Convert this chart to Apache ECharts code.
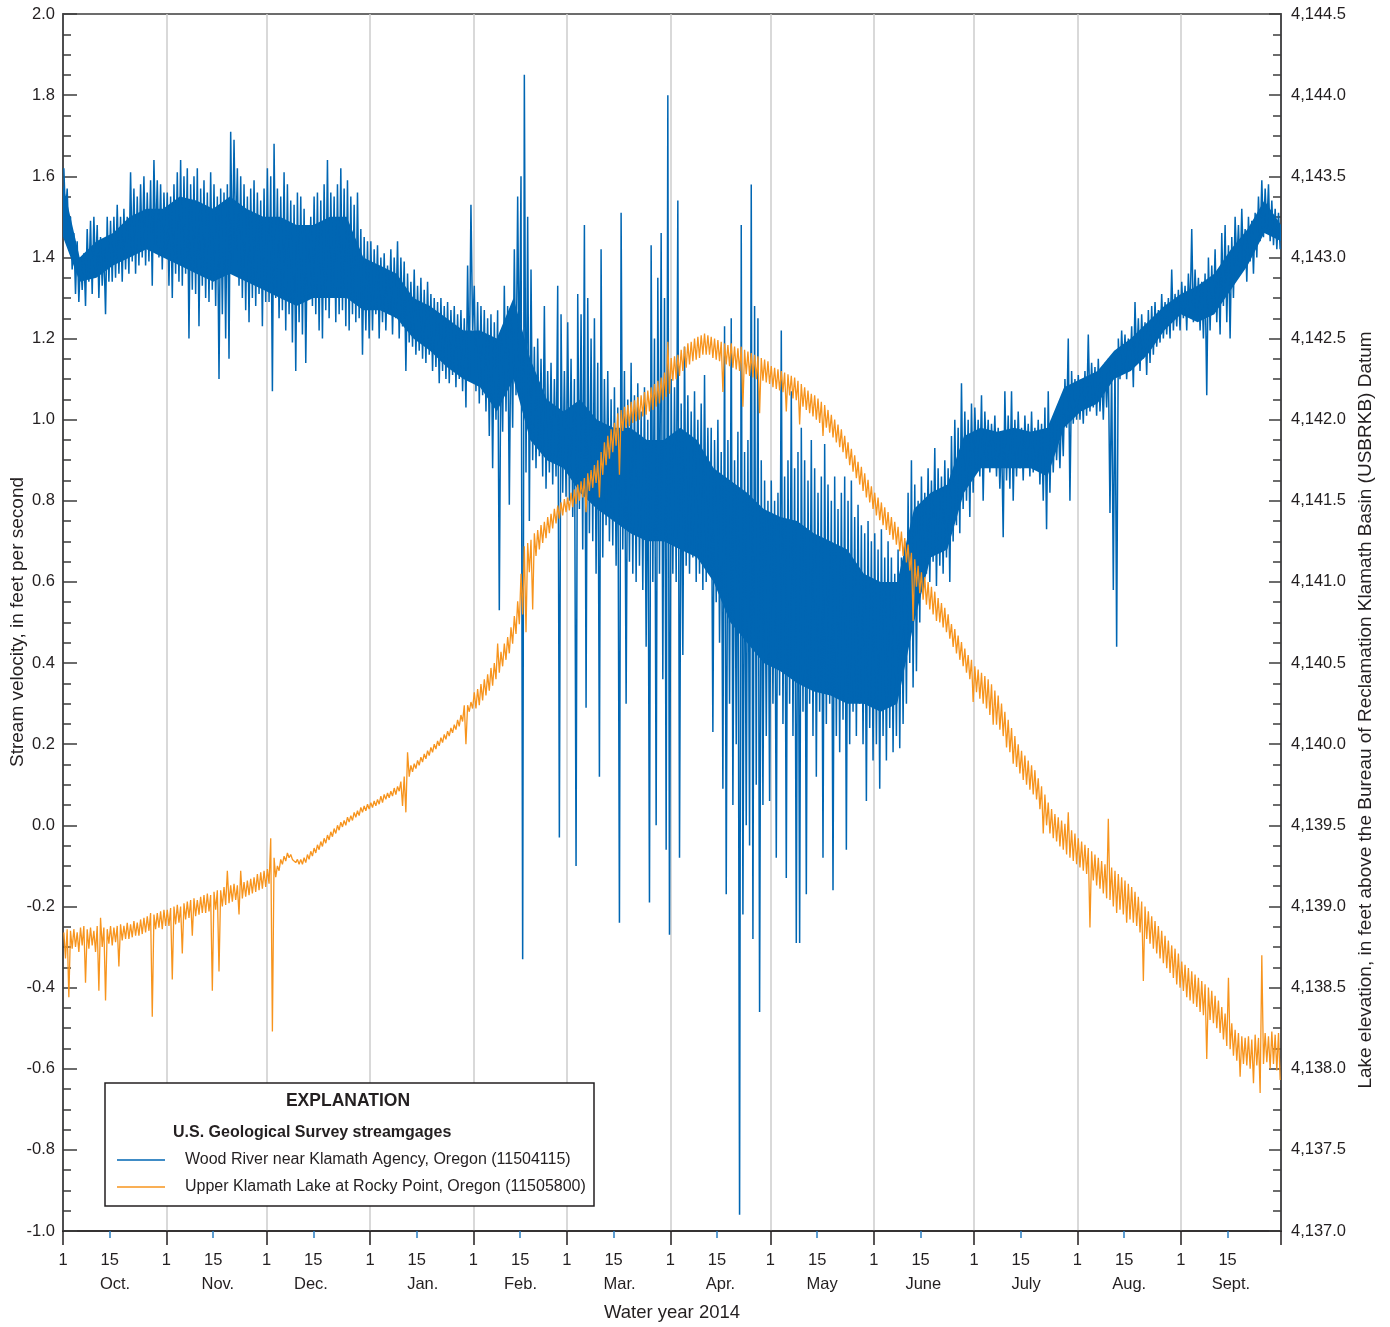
<!DOCTYPE html>
<html>
<head>
<meta charset="utf-8">
<script src="https://cdn.jsdelivr.net/npm/echarts@6/dist/echarts.min.js"></script>
<style>
html,body{margin:0;padding:0;background:#fff;}
#chart{width:1390px;height:1327px;}
</style>
</head>
<body>
<div id="chart"></div>
<script>
// ---- Tick / label arrays (day index from 1 Oct 2013) ----
const monthStartDays = [0, 31, 61, 92, 123, 151, 182, 212, 243, 273, 304, 335, 365];
const midMonthDays = [14, 45, 75, 106, 137, 165, 196, 226, 257, 287, 318, 349];
const monthNames = ['Oct.', 'Nov.', 'Dec.', 'Jan.', 'Feb.', 'Mar.', 'Apr.', 'May', 'June', 'July', 'Aug.', 'Sept.'];
const monthLabelDays = [15.6, 46.4, 74.3, 107.8, 137.1, 166.8, 197, 227.5, 257.8, 288.6, 319.5, 350];

// ---- Wood River stream velocity (ft/s): daily upper and lower envelope ----
const woodHigh = [
 1.62,1.57,1.50,1.46,1.44,1.40,1.41,1.47,1.49,1.50,1.48,1.45,1.42,1.50,1.49,1.50,1.53,1.50,1.52,1.50,1.61,1.57,1.55,1.58,1.60,1.56,1.59,1.64,1.59,1.58,1.56,
 1.56,1.55,1.58,1.61,1.64,1.60,1.62,1.58,1.60,1.62,1.57,1.59,1.56,1.61,1.58,1.55,1.57,1.56,1.58,1.71,1.69,1.62,1.60,1.58,1.55,1.57,1.59,1.56,1.54,1.57,
 1.62,1.60,1.68,1.57,1.55,1.61,1.58,1.54,1.53,1.56,1.55,1.52,1.46,1.50,1.55,1.56,1.54,1.58,1.64,1.56,1.55,1.58,1.62,1.57,1.59,1.55,1.53,1.56,1.47,1.45,1.44,
 1.44,1.42,1.43,1.40,1.41,1.38,1.42,1.40,1.44,1.40,1.39,1.36,1.34,1.37,1.33,1.35,1.32,1.34,1.31,1.30,1.29,1.30,1.28,1.29,1.27,1.28,1.26,1.27,1.25,1.38,1.53,
 1.33,1.29,1.28,1.27,1.25,1.26,1.24,1.27,1.22,1.33,1.28,1.25,1.42,1.55,1.60,1.85,1.50,1.37,1.18,1.20,1.15,1.28,1.12,1.14,1.10,1.33,1.26,1.12,
 1.24,1.15,1.10,1.31,1.26,1.48,1.30,1.20,1.25,1.14,1.42,1.10,1.12,1.05,1.08,1.03,1.51,1.12,1.05,1.14,1.06,1.09,1.02,1.08,1.00,1.43,1.20,1.35,1.46,1.30,1.80,
 1.10,1.08,1.54,1.04,1.18,1.06,1.02,1.07,1.00,1.04,1.11,0.98,0.98,0.95,1.00,0.92,1.23,0.95,1.25,0.90,0.97,1.48,0.92,0.95,1.58,1.28,1.25,0.90,0.85,0.80,
 0.85,0.80,0.82,1.22,0.86,0.90,1.07,0.88,0.92,0.98,0.90,0.85,0.95,0.88,0.82,0.86,0.94,0.84,0.80,0.86,0.78,0.82,0.86,0.80,0.85,0.76,0.79,0.74,0.72,0.75,0.70,
 0.72,0.68,0.73,0.66,0.70,0.66,0.62,0.68,0.66,0.70,0.82,0.90,0.84,0.80,0.86,0.82,0.88,0.85,0.93,0.88,0.86,0.90,0.88,0.96,1.00,0.98,1.09,1.02,1.00,1.04,
 1.03,1.00,1.06,1.02,1.00,0.99,1.01,0.98,0.97,1.07,1.01,1.07,1.00,1.02,0.98,1.01,0.99,1.02,0.98,1.00,0.99,1.03,1.07,1.00,1.01,1.00,1.03,1.10,1.20,1.12,1.10,
 1.11,1.10,1.12,1.21,1.14,1.13,1.15,1.12,1.14,1.15,1.14,1.16,1.20,1.22,1.21,1.20,1.23,1.29,1.25,1.26,1.24,1.27,1.28,1.29,1.27,1.31,1.29,1.30,1.37,1.31,1.32,
 1.34,1.33,1.36,1.47,1.37,1.35,1.34,1.36,1.40,1.38,1.42,1.37,1.46,1.48,1.43,1.45,1.50,1.48,1.52,1.47,1.50,1.49,1.51,1.55,1.59,1.57,1.58,1.54,1.52,1.51
];
const woodLow = [
 1.50,1.44,1.37,1.31,1.29,1.32,1.28,1.34,1.31,1.36,1.30,1.33,1.26,1.34,1.34,1.35,1.36,1.34,1.37,1.36,1.39,1.36,1.38,1.40,1.38,1.39,1.33,1.43,1.40,1.37,1.41,
 1.33,1.30,1.36,1.34,1.33,1.36,1.20,1.32,1.31,1.23,1.33,1.30,1.29,1.32,1.28,1.10,1.26,1.20,1.15,1.38,1.42,1.33,1.30,1.27,1.24,1.30,1.28,1.31,1.23,1.29,
 1.29,1.07,1.30,1.25,1.27,1.22,1.26,1.19,1.12,1.24,1.21,1.14,1.30,1.28,1.26,1.22,1.20,1.27,1.25,1.30,1.24,1.26,1.27,1.23,1.22,1.26,1.24,1.25,1.16,1.22,1.20,
 1.22,1.26,1.20,1.24,1.22,1.26,1.21,1.25,1.20,1.23,1.12,1.19,1.18,1.16,1.17,1.15,1.14,1.16,1.12,1.13,1.09,1.12,1.10,1.09,1.11,1.08,1.10,1.07,1.03,1.10,1.22,
 1.07,1.04,1.06,1.02,0.96,0.88,1.00,0.53,0.97,1.02,0.79,0.98,1.06,1.10,-0.33,0.87,0.75,0.90,0.88,0.91,0.86,0.83,0.87,0.84,0.86,-0.03,0.82,0.81,
 0.80,0.76,-0.10,0.78,0.68,0.29,0.72,0.70,0.62,0.12,0.66,0.74,0.70,0.69,0.64,-0.24,0.68,0.30,0.65,0.62,0.60,0.64,0.58,0.44,-0.19,0.60,0.00,0.62,0.36,-0.06,-0.27,
 0.62,0.60,-0.08,0.42,0.64,0.62,0.66,0.60,0.62,0.58,0.60,0.62,0.23,0.55,0.45,0.09,-0.17,0.30,0.05,0.20,-0.96,-0.22,0.00,-0.05,-0.28,0.10,-0.46,0.05,0.22,0.06,
 0.30,-0.08,0.32,0.25,-0.13,0.30,0.22,-0.29,-0.29,0.28,-0.17,0.30,0.22,0.12,0.28,-0.08,0.25,0.30,-0.16,0.22,0.18,0.26,-0.06,0.20,0.28,0.22,0.30,0.20,0.06,0.24,0.16,
 0.20,0.09,0.22,0.16,0.24,0.18,0.22,0.19,0.25,0.30,0.40,0.34,0.38,0.50,0.58,0.62,0.60,0.65,0.59,0.64,0.62,0.66,0.60,0.70,0.74,0.72,0.78,0.80,0.76,0.82,
 0.88,0.86,0.80,0.90,0.87,0.89,0.86,0.83,0.71,0.85,0.83,0.80,0.86,0.88,0.85,0.89,0.86,0.87,0.88,0.84,0.80,0.73,0.82,0.87,0.90,0.88,0.91,0.98,0.80,0.99,1.00,
 1.00,0.99,1.01,1.02,1.03,1.01,1.02,1.00,1.03,0.77,0.58,0.44,1.10,1.12,1.10,1.12,1.08,1.14,1.12,1.15,1.11,1.14,1.16,1.18,1.19,1.20,1.21,1.20,1.22,1.23,1.22,
 1.25,1.22,1.26,1.24,1.26,1.22,1.20,1.06,1.22,1.26,1.24,1.21,1.28,1.24,1.20,1.30,1.38,1.36,1.38,1.34,1.39,1.36,1.40,1.44,1.45,1.47,1.44,1.43,1.42,1.42
];
// Dense core of the Wood River trace (where the record is solid blue), every 5 days
const coreDays = [0,5,10,15,20,25,30,35,40,45,50,55,60,65,70,75,80,85,90,95,100,105,110,115,120,125,130,135,140,145,150,155,160,165,170,175,180,185,190,195,200,205,210,215,220,225,230,235,240,245,250,255,260,265,270,275,280,285,290,295,300,305,310,315,320,325,330,335,340,345,350,355,360,365];
const woodCoreLow = [1.45,1.34,1.35,1.38,1.40,1.42,1.40,1.38,1.36,1.34,1.36,1.34,1.32,1.30,1.28,1.30,1.30,1.30,1.27,1.27,1.25,1.20,1.17,1.13,1.10,1.08,1.02,1.10,0.95,0.90,0.88,0.82,0.78,0.75,0.72,0.70,0.70,0.68,0.66,0.60,0.50,0.45,0.40,0.38,0.35,0.33,0.32,0.30,0.30,0.28,0.30,0.50,0.66,0.68,0.82,0.88,0.88,0.88,0.88,0.86,0.98,1.02,1.04,1.10,1.12,1.16,1.22,1.26,1.24,1.26,1.32,1.38,1.46,1.44];
const woodCoreHigh = [1.58,1.40,1.44,1.46,1.50,1.52,1.52,1.55,1.54,1.52,1.55,1.52,1.50,1.50,1.48,1.48,1.50,1.50,1.40,1.38,1.36,1.30,1.28,1.25,1.22,1.22,1.20,1.30,1.15,1.05,1.02,1.05,1.00,0.98,0.98,0.95,0.95,0.98,0.95,0.88,0.85,0.82,0.78,0.76,0.75,0.72,0.70,0.68,0.62,0.60,0.60,0.78,0.82,0.84,0.96,0.98,0.97,0.98,0.97,0.98,1.08,1.10,1.12,1.17,1.20,1.24,1.28,1.31,1.33,1.36,1.42,1.47,1.54,1.48];

// ---- Upper Klamath Lake elevation (ft, USBRKB datum): daily upper and lower envelope ----
const lakeHigh = [
 4138.84,4138.86,4138.85,4138.86,4138.84,4138.87,4138.88,4138.86,4138.87,4138.85,4138.88,4138.93,4138.87,4138.86,4138.88,4138.87,4138.88,4138.89,4138.88,4138.90,4138.89,4138.91,4138.90,4138.92,4138.93,4138.94,4138.96,4138.95,4138.96,4138.97,4138.98,
 4138.98,4138.99,4139.00,4139.01,4139.00,4139.02,4139.03,4139.04,4139.05,4139.04,4139.06,4139.07,4139.08,4139.07,4139.09,4139.10,4139.10,4139.12,4139.22,4139.13,4139.14,4139.13,4139.22,4139.15,4139.16,4139.17,4139.18,4139.20,4139.21,4139.22,
 4139.23,4139.42,4139.30,4139.25,4139.29,4139.31,4139.33,4139.32,4139.30,4139.29,4139.29,4139.30,4139.32,4139.34,4139.36,4139.38,4139.40,4139.42,4139.44,4139.46,4139.48,4139.50,4139.52,4139.53,4139.55,4139.56,4139.58,4139.59,4139.61,4139.62,4139.63,
 4139.64,4139.65,4139.66,4139.68,4139.69,4139.70,4139.71,4139.73,4139.74,4139.77,4139.80,4139.95,4139.87,4139.88,4139.90,4139.92,4139.94,4139.96,4139.98,4140.00,4140.02,4140.04,4140.06,4140.08,4140.10,4140.12,4140.15,4140.18,4140.24,4140.24,4140.26,
 4140.32,4140.34,4140.37,4140.40,4140.43,4140.47,4140.50,4140.62,4140.57,4140.62,4140.66,4140.72,4140.79,4140.88,4141.05,4141.22,4141.24,4141.26,4141.30,4141.32,4141.35,4141.37,4141.40,4141.42,4141.45,4141.47,4141.49,4141.51,
 4141.52,4141.55,4141.57,4141.60,4141.62,4141.64,4141.67,4141.69,4141.72,4141.75,4141.80,4141.86,4141.90,4141.94,4141.98,4142.04,4142.06,4142.08,4142.09,4142.11,4142.12,4142.14,4142.15,4142.17,4142.18,4142.20,4142.22,4142.24,4142.26,4142.29,4142.48,
 4142.38,4142.39,4142.40,4142.43,4142.45,4142.47,4142.48,4142.50,4142.51,4142.52,4142.53,4142.52,4142.51,4142.50,4142.49,4142.48,4142.47,4142.46,4142.47,4142.45,4142.44,4142.45,4142.43,4142.42,4142.41,4142.40,4142.39,4142.38,4142.37,4142.36,
 4142.33,4142.32,4142.31,4142.30,4142.29,4142.28,4142.27,4142.26,4142.24,4142.22,4142.20,4142.18,4142.16,4142.15,4142.13,4142.11,4142.09,4142.06,4142.03,4142.00,4141.97,4141.94,4141.90,4141.86,4141.82,4141.78,4141.74,4141.71,4141.67,4141.63,4141.59,
 4141.55,4141.52,4141.49,4141.46,4141.43,4141.40,4141.37,4141.34,4141.31,4141.27,4141.23,4141.18,4141.14,4141.10,4141.06,4141.03,4141.00,4140.97,4140.94,4140.90,4140.87,4140.84,4140.80,4140.74,4140.71,4140.67,4140.63,4140.59,4140.55,4140.52,
 4140.48,4140.46,4140.44,4140.42,4140.40,4140.37,4140.33,4140.30,4140.25,4140.20,4140.15,4140.10,4140.05,4140.00,4139.96,4139.93,4139.90,4139.87,4139.84,4139.79,4139.74,4139.69,4139.64,4139.60,4139.57,4139.55,4139.53,4139.51,4139.58,4139.47,4139.45,
 4139.42,4139.40,4139.38,4139.36,4139.34,4139.32,4139.30,4139.28,4139.26,4139.54,4139.24,4139.22,4139.20,4139.18,4139.16,4139.14,4139.12,4139.09,4139.06,4139.03,4139.00,4138.97,4138.94,4138.91,4138.88,4138.85,4138.82,4138.79,4138.76,4138.74,4138.71,
 4138.66,4138.64,4138.62,4138.60,4138.58,4138.56,4138.54,4138.52,4138.50,4138.48,4138.45,4138.42,4138.38,4138.34,4138.56,4138.28,4138.24,4138.22,4138.20,4138.19,4138.20,4138.18,4138.21,4138.19,4138.70,4138.22,4138.20,4138.23,4138.21,4138.22
];
const lakeLow = [
 4138.68,4138.44,4138.74,4138.75,4138.72,4138.76,4138.53,4138.74,4138.76,4138.72,4138.48,4138.75,4138.42,4138.77,4138.76,4138.78,4138.63,4138.79,4138.80,4138.80,4138.81,4138.82,4138.82,4138.83,4138.84,4138.85,4138.32,4138.86,4138.87,4138.86,4138.88,
 4138.88,4138.55,4138.89,4138.90,4138.71,4138.92,4138.93,4138.82,4138.94,4138.95,4138.96,4138.96,4138.97,4138.48,4138.98,4138.60,4139.00,4139.01,4139.02,4139.03,4139.04,4138.95,4139.05,4139.06,4139.07,4139.08,4139.09,4139.10,4139.11,4139.12,
 4139.14,4138.23,4139.18,4139.22,4139.26,4139.28,4139.30,4139.29,4139.27,4139.26,4139.26,4139.27,4139.29,4139.31,4139.33,4139.35,4139.37,4139.39,4139.41,4139.43,4139.45,4139.47,4139.49,4139.50,4139.52,4139.53,4139.55,4139.56,4139.58,4139.59,4139.60,
 4139.61,4139.62,4139.63,4139.64,4139.66,4139.67,4139.68,4139.69,4139.71,4139.62,4139.58,4139.80,4139.83,4139.85,4139.87,4139.89,4139.91,4139.93,4139.95,4139.97,4139.99,4140.01,4140.03,4140.05,4140.07,4140.09,4140.11,4140.14,4140.00,4140.20,4140.22,
 4140.22,4140.24,4140.27,4140.30,4140.33,4140.36,4140.40,4140.44,4140.48,4140.52,4140.56,4140.62,4140.68,4140.74,4140.80,4140.69,4141.06,4140.83,4141.16,4141.20,4141.24,4141.27,4141.30,4141.33,4141.36,4141.39,4141.41,4141.43,
 4141.44,4141.46,4141.48,4141.50,4141.52,4141.43,4141.56,4141.58,4141.61,4141.52,4141.66,4141.72,4141.76,4141.80,4141.84,4141.66,4141.93,4141.95,4141.96,4141.98,4141.99,4142.00,4142.02,4142.03,4142.05,4142.06,4142.08,4142.10,4142.12,4142.14,4142.16,
 4142.24,4142.25,4142.27,4142.30,4142.32,4142.34,4142.36,4142.37,4142.38,4142.40,4142.40,4142.40,4142.38,4142.37,4142.36,4142.17,4142.34,4142.33,4142.32,4142.31,4142.30,4142.08,4142.28,4142.27,4142.26,4142.25,4142.04,4142.24,4142.23,4142.22,
 4142.20,4142.19,4142.18,4142.17,4142.05,4142.15,4142.13,4142.12,4141.97,4142.08,4142.06,4142.04,4142.02,4142.00,4141.98,4141.90,4141.95,4141.92,4141.89,4141.86,4141.83,4141.80,4141.76,4141.72,4141.68,4141.64,4141.60,4141.56,4141.52,4141.49,4141.45,
 4141.41,4141.38,4141.35,4141.32,4141.29,4141.26,4141.23,4141.19,4141.16,4141.12,4141.07,4140.76,4140.97,4140.93,4140.89,4140.86,4140.83,4140.80,4140.76,4140.75,4140.72,4140.69,4140.65,4140.60,4140.56,4140.52,4140.48,4140.44,4140.40,4140.26,
 4140.32,4140.28,4140.25,4140.22,4140.18,4140.12,4140.12,4140.09,4140.05,4139.98,4139.95,4139.88,4139.86,4139.82,4139.78,4139.75,4139.72,4139.69,4139.66,4139.60,4139.45,4139.50,4139.45,4139.42,4139.40,4139.37,4139.35,4139.32,4139.30,4139.28,4139.26,
 4139.24,4139.22,4139.20,4138.87,4139.16,4139.13,4139.11,4139.08,4139.05,4139.04,4139.00,4138.96,4138.98,4138.95,4138.90,4138.92,4138.90,4138.88,4138.84,4138.54,4138.80,4138.77,4138.74,4138.71,4138.68,4138.65,4138.62,4138.59,4138.56,4138.52,4138.50,
 4138.48,4138.44,4138.42,4138.40,4138.38,4138.35,4138.33,4138.06,4138.30,4138.28,4138.25,4138.22,4138.18,4138.14,4138.12,4138.08,4138.05,4137.95,4138.03,4138.02,4138.00,4137.91,4138.02,4137.85,4138.03,4138.04,4138.00,4138.03,4137.99,4137.93
];

const woodName = 'Wood River near Klamath Agency, Oregon (11504115)';
const lakeName = 'Upper Klamath Lake at Rocky Point, Oregon (11505800)';
const BLUE = '#0066b3';
const ORANGE = '#f7941d';

// Each day: upper envelope in the first half of the day, lower envelope in the second half.
function envelopeSeries(high, low) {
  const out = [];
  for (let i = 0; i < high.length; i++) {
    out.push([i + 0.25, high[i]]);
    out.push([i + 0.75, low[i]]);
  }
  return out;
}

const TEXT_FONT = "'Liberation Sans', Arial, sans-serif";
const INK = '#231f20';
const NUM_SIZE = 16.5;

function fmtElev(v) {
  const s = v.toFixed(1);
  const parts = s.split('.');
  return parts[0].replace(/\B(?=(\d{3})+(?!\d))/g, ',') + '.' + parts[1];
}

const tickLine = {color: '#3c3c3c', width: 1.5};

const chart = echarts.init(document.getElementById('chart'), null, {renderer: 'canvas'});
const option = {
  animation: false,
  backgroundColor: '#ffffff',
  textStyle: {fontFamily: TEXT_FONT},
  grid: {left: 63, top: 14, width: 1218, height: 1217, show: true, borderColor: '#3c3c3c', borderWidth: 1.5, containLabel: false},
  legend: {
    show: true, orient: 'vertical', left: 117, top: 1152,
    itemWidth: 48, itemHeight: 1.5, icon: 'rect', itemGap: 11, padding: 0,
    selectedMode: false, z: 10,
    textStyle: {fontSize: 16, color: INK, fontFamily: TEXT_FONT, padding: [0, 0, 0, 15]},
    data: [woodName, lakeName]
  },
  xAxis: [
    {
      type: 'value', min: 0, max: 365, position: 'bottom',
      axisLine: {show: true, onZero: false, lineStyle: {color: INK, width: 1.5}},
      axisTick: {show: true, customValues: monthStartDays, length: 14, lineStyle: {color: INK, width: 1.5}},
      axisLabel: {customValues: monthStartDays.slice(0, 12), formatter: () => '1', margin: 21, fontSize: NUM_SIZE, color: INK},
      splitLine: {show: true, lineStyle: {color: '#cdcdcd', width: 1.5}}
    },
    {
      type: 'value', min: 0, max: 365, position: 'bottom',
      axisLine: {show: false, onZero: false},
      axisTick: {show: true, customValues: midMonthDays, length: 7, lineStyle: {color: '#2a7fc4', width: 1.5}},
      axisLabel: {customValues: midMonthDays, formatter: () => '15', margin: 21, fontSize: NUM_SIZE, color: INK},
      splitLine: {show: false}
    },
    {
      type: 'value', min: 0, max: 365, position: 'bottom',
      axisLine: {show: false, onZero: false}, axisTick: {show: false},
      axisLabel: {
        customValues: monthLabelDays, margin: 45, fontSize: NUM_SIZE, color: INK,
        formatter: (v) => {
          const i = monthLabelDays.findIndex(d => Math.abs(d - v) < 0.01);
          return i >= 0 ? monthNames[i] : '';
        }
      },
      splitLine: {show: false},
      name: 'Water year 2014', nameLocation: 'middle', nameGap: 72,
      nameTextStyle: {fontSize: 18.5, color: INK}
    }
  ],
  yAxis: [
    {
      type: 'value', min: -1, max: 2, interval: 0.2, position: 'left',
      axisLine: {show: true, onZero: false, lineStyle: {color: '#4d4d4f', width: 2}},
      axisTick: {show: true, inside: true, length: 14, lineStyle: tickLine},
      minorTick: {show: false},
      axisLabel: {formatter: v => v.toFixed(1), fontSize: NUM_SIZE, color: INK, margin: 8},
      splitLine: {show: false}
    },
    {
      type: 'value', min: 4137, max: 4144.5, interval: 0.5, position: 'right',
      axisLine: {show: true, onZero: false, lineStyle: {color: '#4d4d4f', width: 2}},
      axisTick: {show: true, inside: true, length: 12, lineStyle: tickLine},
      minorTick: {show: false},
      axisLabel: {formatter: fmtElev, fontSize: NUM_SIZE, color: INK, margin: 10},
      splitLine: {show: false}
    },
    {
      type: 'value', min: -1, max: 2, interval: 0.05, position: 'left',
      axisLine: {show: false, onZero: false},
      axisTick: {show: true, inside: true, length: 8, lineStyle: tickLine},
      axisLabel: {show: false}, splitLine: {show: false}
    },
    {
      type: 'value', min: 4137, max: 4144.5, interval: 0.125, position: 'right',
      axisLine: {show: false, onZero: false},
      axisTick: {show: true, inside: true, length: 8, lineStyle: tickLine},
      axisLabel: {show: false}, splitLine: {show: false}
    }
  ],
  graphic: [
    {type: 'rect', z: 3, shape: {x: 105, y: 1083, width: 489, height: 123}, style: {fill: '#ffffff', stroke: INK, lineWidth: 1.5}},
    {type: 'text', z: 5, x: 348, y: 1101, style: {text: 'EXPLANATION', font: "bold 17.5px 'Liberation Sans', Arial, sans-serif", fill: INK, align: 'center', verticalAlign: 'middle'}},
    {type: 'text', z: 5, x: 173, y: 1133, style: {text: 'U.S. Geological Survey streamgages', font: "bold 16px 'Liberation Sans', Arial, sans-serif", fill: INK, align: 'left', verticalAlign: 'middle'}},
    {type: 'text', z: 5, x: 18, y: 622, rotation: Math.PI / 2, style: {text: 'Stream velocity, in feet per second', font: "19px 'Liberation Sans', Arial, sans-serif", fill: INK, align: 'center', verticalAlign: 'middle'}},
    {type: 'text', z: 5, x: 1366, y: 710, rotation: Math.PI / 2, style: {text: 'Lake elevation, in feet above the Bureau of Reclamation Klamath Basin (USBRKB) Datum', font: "19px 'Liberation Sans', Arial, sans-serif", fill: INK, align: 'center', verticalAlign: 'middle'}}
  ],
  series: [
    {
      // solid core of the Wood River record, drawn as a polygon through the axis scales
      name: 'woodCore', type: 'custom', xAxisIndex: 0, yAxisIndex: 0, z: 1, silent: true,
      data: [[0, 0]],
      renderItem: (params, api) => {
        const pts = [];
        for (let i = 0; i < coreDays.length; i++) pts.push(api.coord([coreDays[i], woodCoreHigh[i]]));
        for (let i = coreDays.length - 1; i >= 0; i--) pts.push(api.coord([coreDays[i], woodCoreLow[i]]));
        return {type: 'polygon', shape: {points: pts}, style: {fill: BLUE, stroke: null}};
      }
    },
    {
      name: woodName, type: 'line', xAxisIndex: 0, yAxisIndex: 0, z: 2,
      data: envelopeSeries(woodHigh, woodLow),
      symbol: 'none', showSymbol: false, sampling: null,
      lineStyle: {color: BLUE, width: 1.5}, itemStyle: {color: BLUE}
    },
    {
      name: lakeName, type: 'line', xAxisIndex: 0, yAxisIndex: 1, z: 3,
      data: envelopeSeries(lakeHigh, lakeLow),
      symbol: 'none', showSymbol: false, sampling: null,
      lineStyle: {color: ORANGE, width: 1.3}, itemStyle: {color: ORANGE}
    }
  ]
};
chart.setOption(option);
</script>
</body>
</html>
